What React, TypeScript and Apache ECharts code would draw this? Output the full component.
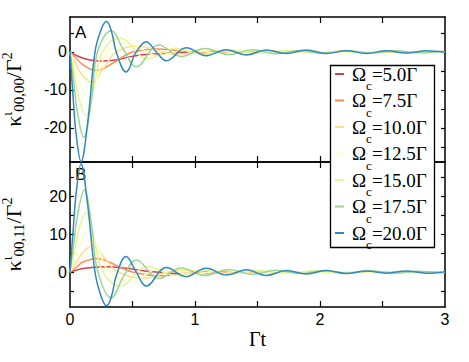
import React, { useEffect, useRef } from "react";
import * as echarts from "echarts";

const seriesNames = ["Ωc=5.0Γ", "Ωc=7.5Γ", "Ωc=10.0Γ", "Ωc=12.5Γ", "Ωc=15.0Γ", "Ωc=17.5Γ", "Ωc=20.0Γ"];
const seriesColors = ["#d53e4f", "#fc8d59", "#fee08b", "#ffffbf", "#e6f598", "#99d594", "#3288bd"];

const xTickValues = [0.5, 1, 1.5, 2, 2.5];
const xLabelValues = [0, 1, 2, 3];
const yTickValuesA = [-25, -20, -15, -10, -5, 0, 5];
const yLabelValuesA = [-20, -10, 0];
const yTickValuesB = [-5, 0, 5, 10, 15, 20, 25];
const yLabelValuesB = [0, 10, 20];

// Panel A: kappa_{00,00}
const A50: [number, number][] = [[0,0],[0.05,-0.9],[0.12,-1.8],[0.25,-2.4],[0.35,-2.2],[0.45,-1.5],[0.56,-0.8],[0.72,-0.45],[0.9,-0.15],[1.1,0.05],[1.4,0.05],[1.8,0],[2.4,0],[3,0]];
const A75: [number, number][] = [[0,0],[0.05,-1.6],[0.1,-3.3],[0.213,-4.9],[0.33,-3.2],[0.42,-1.3],[0.5,0],[0.68,0.8],[0.9,0.2],[1.08,-0.3],[1.5,0.15],[1.9,-0.05],[2.4,0],[3,0]];
const A100: [number, number][] = [[0,0],[0.04,-2.6],[0.09,-5.8],[0.173,-8],[0.27,-4.2],[0.37,0],[0.53,1.5],[0.85,-0.6],[1.15,0.3],[1.45,-0.2],[1.75,0.15],[2.05,-0.1],[2.4,0.05],[3,0]];
const A125: [number, number][] = [[0,0],[0.04,-4],[0.08,-8.5],[0.147,-12],[0.22,-6.5],[0.3,0],[0.46,2.4],[0.7,-1.0],[0.95,0.6],[1.2,-0.4],[1.45,0.3],[1.7,-0.2],[1.95,0.15],[2.2,-0.1],[2.45,0.1],[2.7,-0.05],[3,0]];
const A150: [number, number][] = [[0,0],[0.03,-5],[0.07,-12],[0.128,-16.8],[0.19,-9.5],[0.26,0],[0.4,3.6],[0.62,-1.8],[0.84,1.0],[1.06,-0.7],[1.28,0.5],[1.5,-0.4],[1.72,0.3],[1.94,-0.3],[2.16,0.2],[2.38,-0.2],[2.6,0.15],[2.82,-0.1],[3,0.05]];
const A175: [number, number][] = [[0,0],[0.03,-8],[0.06,-16],[0.11,-22.5],[0.17,-13],[0.22,0],[0.33,5.6],[0.43,0.5],[0.53,-3.9],[0.71,1.8],[0.89,-1.2],[1.08,0.9],[1.27,-0.7],[1.46,0.6],[1.65,-0.5],[1.84,0.4],[2.03,-0.4],[2.22,0.3],[2.41,-0.3],[2.6,0.3],[2.79,-0.2],[2.98,0.2]];
const A200: [number, number][] = [[0,0],[0.025,-12],[0.05,-22],[0.088,-28.9],[0.14,-19],[0.2,0],[0.25,6],[0.293,8],[0.335,5],[0.37,0],[0.448,-5.3],[0.53,0],[0.61,2.7],[0.69,0],[0.77,-2.3],[0.93,1.1],[1.09,-1.0],[1.25,0.6],[1.41,-0.8],[1.57,0.5],[1.73,-0.4],[1.89,0.5],[2.05,-0.4],[2.21,0.3],[2.37,-0.4],[2.53,0.3],[2.69,-0.3],[2.85,0.3],[3,-0.1]];

// Panel B: kappa_{00,11}
const B50: [number, number][] = [[0,0],[0.05,0.5],[0.12,1.0],[0.29,1.4],[0.45,1.0],[0.6,0.3],[0.8,-0.3],[1.0,-0.4],[1.3,-0.1],[1.8,0.05],[2.4,0],[3,0]];
const B75: [number, number][] = [[0,0],[0.05,1.2],[0.1,2.6],[0.213,3.6],[0.33,2.4],[0.42,1.0],[0.5,0],[0.72,-1.0],[0.95,-0.4],[1.15,0.2],[1.5,-0.1],[2,0.05],[3,0]];
const B100: [number, number][] = [[0,0],[0.04,2.0],[0.09,4.6],[0.173,6.8],[0.27,4.0],[0.37,0.3],[0.58,-1.6],[0.88,0.5],[1.18,-0.3],[1.48,0.15],[1.78,-0.1],[2.1,0.05],[3,0]];
const B125: [number, number][] = [[0,0],[0.04,3.5],[0.08,7.5],[0.147,10.8],[0.22,6.5],[0.31,0.2],[0.48,-2.5],[0.72,0.9],[0.97,-0.6],[1.22,0.4],[1.47,-0.3],[1.72,0.2],[1.97,-0.15],[2.22,0.1],[2.5,-0.05],[3,0]];
const B150: [number, number][] = [[0,0],[0.03,4.5],[0.07,11],[0.128,15.6],[0.19,9],[0.26,0.3],[0.4,-3.7],[0.62,1.5],[0.84,-0.9],[1.06,0.6],[1.28,-0.5],[1.5,0.4],[1.72,-0.3],[1.94,0.3],[2.16,-0.2],[2.38,0.2],[2.6,-0.15],[2.82,0.1],[3,-0.05]];
const B175: [number, number][] = [[0,0],[0.03,7.5],[0.06,15],[0.115,21.6],[0.17,13],[0.22,0.5],[0.33,-6.8],[0.43,-1],[0.53,3.2],[0.71,-1.7],[0.89,1.1],[1.08,-0.9],[1.27,0.7],[1.46,-0.6],[1.65,0.5],[1.84,-0.4],[2.03,0.4],[2.22,-0.3],[2.41,0.3],[2.6,-0.3],[2.79,0.2],[2.98,-0.2]];
const B200: [number, number][] = [[0,0],[0.025,11],[0.05,21],[0.088,28.5],[0.14,18],[0.2,0],[0.25,-6.5],[0.293,-8.9],[0.335,-6],[0.37,-1],[0.448,4.1],[0.53,0],[0.61,-3.7],[0.77,1.2],[0.93,-1.2],[1.09,1.0],[1.25,-0.8],[1.41,0.6],[1.57,-0.9],[1.73,0.4],[1.89,-0.5],[2.05,0.4],[2.21,-0.4],[2.37,0.3],[2.53,-0.3],[2.69,0.3],[2.85,-0.3],[3,0.1]];

const panelA = [A50, A75, A100, A125, A150, A175, A200];
const panelB = [B50, B75, B100, B125, B150, B175, B200];

const SANS = "'Liberation Sans', Arial, Helvetica, sans-serif";
const SERIF = "'Liberation Serif', 'Times New Roman', serif";
const BLACK = "#000";

function xAxisDef(gridIndex: number, position: string, showLabel: boolean, name?: string) {
  return {
    type: "value",
    gridIndex,
    position,
    min: 0,
    max: 3,
    name: name || "",
    nameLocation: "middle",
    nameGap: 22,
    nameTextStyle: { fontFamily: SERIF, fontSize: 20, color: BLACK },
    axisLine: { show: true, onZero: false, lineStyle: { color: BLACK, width: 1.5 } },
    axisTick: { show: true, inside: true, length: 6, customValues: xTickValues, lineStyle: { color: BLACK, width: 1.2 } },
    axisLabel: { show: showLabel, customValues: xLabelValues, margin: 4, fontFamily: SANS, fontSize: 16, color: BLACK },
    splitLine: { show: false },
  };
}

function yAxisDef(gridIndex: number, position: string, showLabel: boolean, min: number, max: number, ticks: number[], labels: number[], name?: string, sub?: string) {
  return {
    type: "value",
    gridIndex,
    position,
    min,
    max,
    name: name ? `{k|κ}{i|ι}{s|${sub}}{m|/Γ}{p|2}` : "",
    nameLocation: "middle",
    nameRotate: 90,
    nameGap: 43,
    nameTextStyle: {
      color: BLACK,
      fontFamily: SERIF,
      rich: {
        k: { fontFamily: SERIF, fontSize: 22, color: BLACK },
        i: { fontFamily: SERIF, fontSize: 14, color: BLACK, padding: [0, 0, 13, 0] },
        s: { fontFamily: SERIF, fontSize: 15, color: BLACK, padding: [11, 0, 0, 0] },
        m: { fontFamily: SERIF, fontSize: 22, color: BLACK },
        p: { fontFamily: SERIF, fontSize: 14, color: BLACK, padding: [0, 0, 13, 0] },
      },
    },
    axisLine: { show: true, onZero: false, lineStyle: { color: BLACK, width: 1.5 } },
    axisTick: { show: true, inside: true, length: 4, customValues: ticks, lineStyle: { color: BLACK, width: 1.2 } },
    axisLabel: { show: showLabel, customValues: labels, margin: 3, fontFamily: SANS, fontSize: 16, color: BLACK },
    splitLine: { show: false },
  };
}

export default function App() {
  const ref = useRef<HTMLDivElement>(null);
  useEffect(() => {
    if (!ref.current) return;
    const chart = echarts.init(ref.current, null, { renderer: "svg" });
    const series: any[] = [];
    panelA.forEach((d, i) => {
      series.push({
        type: "line", name: seriesNames[i], data: d, xAxisIndex: 0, yAxisIndex: 0,
        symbol: "none", showSymbol: false, smooth: 0.4, clip: true,
        lineStyle: { width: 1.5, color: seriesColors[i] }, itemStyle: { color: seriesColors[i] },
        z: 2 + i,
      });
    });
    panelB.forEach((d, i) => {
      series.push({
        type: "line", name: seriesNames[i], data: d, xAxisIndex: 2, yAxisIndex: 2,
        symbol: "none", showSymbol: false, smooth: 0.4, clip: true,
        lineStyle: { width: 1.5, color: seriesColors[i] }, itemStyle: { color: seriesColors[i] },
        z: 2 + i,
      });
    });
    const option: any = {
      animation: false,
      backgroundColor: "#fff",
      grid: [
        { left: 70, top: 17, width: 375, height: 145, containLabel: false, outerBoundsMode: "none" },
        { left: 70, top: 162, width: 375, height: 145, containLabel: false, outerBoundsMode: "none" },
      ],
      xAxis: [
        xAxisDef(0, "bottom", false),
        xAxisDef(0, "top", false),
        xAxisDef(1, "bottom", true, "Γt"),
        xAxisDef(1, "top", false),
      ],
      yAxis: [
        yAxisDef(0, "left", true, -29, 9.2, yTickValuesA, yLabelValuesA, "k", "00,00"),
        yAxisDef(0, "right", false, -29, 9.2, yTickValuesA, yLabelValuesA),
        yAxisDef(1, "left", true, -9.2, 29, yTickValuesB, yLabelValuesB, "k", "00,11"),
        yAxisDef(1, "right", false, -9.2, 29, yTickValuesB, yLabelValuesB),
      ],
      legend: {
        show: true,
        orient: "vertical",
        left: 335,
        top: 56,
        padding: 0,
        itemGap: -9.5,
        itemWidth: 9,
        itemHeight: 2,
        icon: "rect",
        selectedMode: false,
        data: seriesNames,
        z: 10,
        formatter: (name: string) => `{o|Ω}{c|c}{t|${name.slice(2)}}`,
        textStyle: {
          color: BLACK,
          fontFamily: SERIF,
          fontSize: 19,
          lineHeight: 36,
          rich: {
            o: { fontFamily: SERIF, fontSize: 19, lineHeight: 36, color: BLACK, padding: [0, 0, 0, 3] },
            c: { fontFamily: SERIF, fontSize: 13, lineHeight: 14, color: BLACK, verticalAlign: "bottom" },
            t: { fontFamily: SERIF, fontSize: 19, lineHeight: 36, color: BLACK },
          },
        },
      },
      graphic: [
        {
          type: "rect", z: 5,
          shape: { x: 330.5, y: 65.5, width: 104, height: 182 },
          style: { fill: "#fff", stroke: BLACK, lineWidth: 1.3 },
        },
        {
          type: "text", z: 6, left: 75, top: 24,
          style: { text: "A", fontFamily: SANS, fontSize: 17, fill: BLACK },
        },
        {
          type: "text", z: 1, left: 75, top: 166,
          style: { text: "B", fontFamily: SANS, fontSize: 17, fill: BLACK },
        },
      ],
      series,
    };
    chart.setOption(option);
    return () => chart.dispose();
  }, []);
  return <div ref={ref} style={{ position: "fixed", left: 0, top: 0, width: 469, height: 362 }} />;
}
